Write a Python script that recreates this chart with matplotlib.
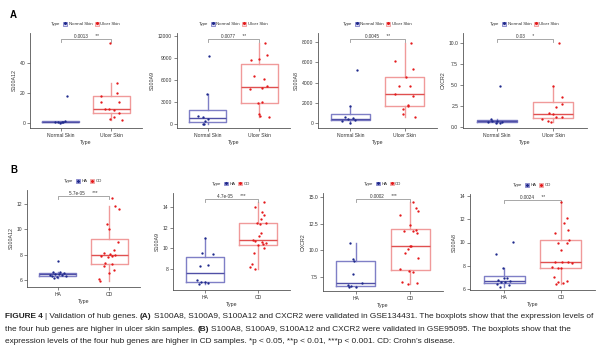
import matplotlib
matplotlib.use("Agg")
import matplotlib.pyplot as plt
from matplotlib.patches import Patch
from matplotlib.lines import Line2D
from matplotlib.legend_handler import HandlerTuple

plt.rcParams['font.family'] = ['Liberation Sans', 'DejaVu Sans']

W, H = 600, 357
BLUE, BLUE_BOX, BLUE_MED = "#1f2a8c", "#7f7fc6", "#5050a6"
RED, RED_BOX, RED_MED = "#e41a1c", "#f09a9a", "#e05050"
AXIS = "#555555"
TXT = "#333333"

# ---------------- data ----------------
groups_a = ["Normal Skin", "Ulcer Skin"]
groups_b = ["HA", "CD"]

# panel A (GSE134431)
a_s100a12_normal = [18.2, 1.2, 0.8, 0.5, 0.3, 0.2, 0.1]
a_s100a12_ulcer = [53.9, 27, 20.2, 18, 14.1, 14.1, 9.5, 9.0, 8.6, 6.3, 3.6, 2.3, 2.0]
a_s100a9_normal = [9240, 4030, 1130, 900, 650, 350, 60, 20]
a_s100a9_ulcer = [11050, 9380, 8790, 8700, 6520, 6110, 5160, 4850, 4710, 3030, 2810, 1360, 1130, 910]
a_s100a8_normal = [5230, 1680, 600, 480, 400, 300, 200, 30]
a_s100a8_ulcer = [7930, 6150, 5330, 4510, 3650, 3650, 2830, 2670, 1780, 1680, 1380, 890, 560]
a_cxcr2_normal = [4.86, 1.0, 0.75, 0.7, 0.65, 0.6, 0.5, 0.45]
a_cxcr2_ulcer = [10.0, 4.86, 3.6, 2.69, 2.41, 1.7, 1.5, 1.22, 1.15, 0.91, 0.67, 0.56]

# panel B (GSE95095)
b_s100a12_ha = [7.52, 6.63, 6.6, 6.58, 6.5, 6.45, 6.42, 6.38, 6.32, 6.28, 6.24, 6.13]
b_s100a12_cd = [12.45, 11.87, 11.58, 10.42, 10.0, 8.97, 8.37, 8.16, 8.03, 7.97,
                7.92, 7.88, 7.85, 7.37, 7.29, 7.1, 6.76, 6.53, 6.05, 5.95]
b_s100a9_ha = [10.97, 9.52, 9.42, 8.39, 8.32, 6.9, 6.77, 6.7, 6.6, 6.55]
b_s100a9_cd = [14.52, 14.04, 13.55, 13.23, 12.84, 12.5, 12.42, 12.33, 11.45, 11.22, 10.83,
               10.7, 10.64, 10.55, 10.42, 10.32, 10.06, 9.52, 8.45, 8.23, 7.97]
b_cxcr2_ha = [10.72, 9.16, 9.03, 7.75, 6.94, 6.75, 6.69, 6.59, 6.56]
b_cxcr2_cd = [14.5, 14.0, 13.72, 13.31, 12.4, 11.85, 11.9, 11.8, 11.6, 10.45,
              10.4, 10.1, 9.78, 9.25, 8.22, 8.06, 7.94, 7.0, 6.9, 6.84]
b_s100a8_ha = [10.02, 9.01, 7.78, 6.95, 6.92, 6.77, 6.69, 6.63, 6.57, 6.43, 6.34, 6.2]
b_s100a8_cd = [13.51, 12.13, 11.7, 11.08, 10.84, 10.2, 9.98, 9.98, 9.35, 8.35, 8.3,
               8.28, 8.21, 7.92, 7.83, 7.78, 7.06, 6.69, 6.57, 6.49, 6.4]

# horizontal jitter of each point (category units)
a_s100a12_normal_jit = [0.12, 0.08, -0.05, 0.02, -0.1, 0.05, -0.02]
a_s100a12_ulcer_jit = [-0.02, 0.11, 0.10, -0.2, -0.21, 0.14, -0.12, -0.05, 0.05, 0.15, 0.05, -0.02, 0.2]
a_s100a9_normal_jit = [0.02, -0.02, -0.2, -0.1, 0.0, -0.05, -0.1, -0.08]
a_s100a9_ulcer_jit = [0.12, 0.15, 0.0, -0.16, -0.1, 0.1, 0.15, 0.06, -0.18, 0.06, -0.03, 0.0, 0.01, 0.2]
a_s100a8_normal_jit = [0.12, 0.0, -0.1, 0.05, -0.05, 0.08, -0.15, 0.0]
a_s100a8_ulcer_jit = [0.12, -0.17, 0.15, 0.02, -0.1, 0.1, -0.18, 0.15, 0.06, 0.07, -0.02, -0.03, 0.2]
a_cxcr2_normal_jit = [0.05, -0.1, 0.0, -0.08, 0.1, -0.15, 0.06, -0.02]
a_cxcr2_ulcer_jit = [0.1, -0.01, 0.16, 0.16, 0.05, -0.08, 0.0, 0.05, 0.15, -0.2, -0.1, -0.03]
b_s100a12_ha_jit = [0.0, 0.05, -0.1, 0.12, -0.05, 0.02, -0.15, 0.08, -0.12, 0.15, -0.02, -0.08]
b_s100a12_cd_jit = [0.05, 0.12, 0.2, -0.05, 0.0, 0.18, 0.1, -0.1, 0.02, 0.12, -0.15, 0.06, -0.02,
                    -0.08, 0.05, -0.1, 0.1, 0.0, -0.2, -0.18]
b_s100a9_ha_jit = [0.0, -0.05, 0.15, 0.05, -0.1, -0.15, 0.0, -0.08, 0.05, -0.12]
b_s100a9_cd_jit = [0.12, -0.05, 0.08, 0.12, 0.05, 0.15, -0.02, 0.03, 0.05, 0.02, -0.1, -0.05,
                   0.08, 0.15, 0.1, 0.0, 0.12, -0.08, -0.12, -0.15, -0.05]
b_cxcr2_ha_jit = [-0.1, -0.05, -0.04, -0.05, 0.12, -0.15, -0.08, 0.0, -0.12]
b_cxcr2_cd_jit = [0.05, 0.1, 0.15, -0.18, 0.0, 0.05, 0.1, -0.12, 0.12, 0.02, 0.0, -0.05,
                  -0.1, 0.15, -0.18, -0.02, 0.05, -0.15, 0.12, -0.05]
b_s100a8_ha_jit = [0.15, -0.15, -0.02, 0.0, 0.05, -0.1, 0.1, -0.05, 0.02, -0.12, 0.08, -0.08]
b_s100a8_cd_jit = [0.0, 0.1, 0.05, 0.12, -0.1, 0.15, -0.05, 0.1, 0.0, -0.1, 0.02, 0.12,
                   0.2, -0.15, 0.0, -0.05, -0.12, 0.1, -0.05, 0.03, -0.08]

p_values_a = ["0.0013", "0.0077", "0.0045", "0.03"]
stars_a = ["**", "**", "**", "*"]
p_values_b = ["5.7e-05", "4.7e-05", "0.0002", "0.0024"]
stars_b = ["***", "***", "***", "**"]

# ---------------- layout (pixels) ----------------
# rect = (left, top, right, bottom); yref = ((value, pixel), (value, pixel))
panels = [
    ("S100A12", groups_a, a_s100a12_normal, a_s100a12_normal_jit, a_s100a12_ulcer, a_s100a12_ulcer_jit,
     p_values_a[0], stars_a[0], [0, 20, 40], (30, 33, 142, 128), ((0, 122.7), (40, 63.3))),
    ("S100A9", groups_a, a_s100a9_normal, a_s100a9_normal_jit, a_s100a9_ulcer, a_s100a9_ulcer_jit,
     p_values_a[1], stars_a[1], [0, 3000, 6000, 9000, 12000], (177, 33, 290, 128), ((0, 124), (12000, 35.7))),
    ("S100A8", groups_a, a_s100a8_normal, a_s100a8_normal_jit, a_s100a8_ulcer, a_s100a8_ulcer_jit,
     p_values_a[2], stars_a[2], [0, 2000, 4000, 6000, 8000], (318, 33, 437, 128), ((0, 123), (8000, 42))),
    ("CXCR2", groups_a, a_cxcr2_normal, a_cxcr2_normal_jit, a_cxcr2_ulcer, a_cxcr2_ulcer_jit,
     p_values_a[3], stars_a[3], [0.0, 2.5, 5.0, 7.5, 10.0], (463, 33, 587, 128), ((0, 127), (10, 42.7))),
    ("S100A12", groups_b, b_s100a12_ha, b_s100a12_ha_jit, b_s100a12_cd, b_s100a12_cd_jit,
     p_values_b[0], stars_b[0], [6, 8, 10, 12], (27, 190, 140, 287), ((6, 280), (12, 204))),
    ("S100A9", groups_b, b_s100a9_ha, b_s100a9_ha_jit, b_s100a9_cd, b_s100a9_cd_jit,
     p_values_b[1], stars_b[1], [8, 10, 12, 14], (173, 193, 290, 290), ((8, 269), (14, 207))),
    ("CXCR2", groups_b, b_cxcr2_ha, b_cxcr2_ha_jit, b_cxcr2_cd, b_cxcr2_cd_jit,
     p_values_b[2], stars_b[2], [7.5, 10.0, 12.5, 15.0], (323, 193, 443, 291), ((7.5, 277), (15, 197))),
    ("S100A8", groups_b, b_s100a8_ha, b_s100a8_ha_jit, b_s100a8_cd, b_s100a8_cd_jit,
     p_values_b[3], stars_b[3], [6, 8, 10, 12, 14], (470, 194, 595, 290), ((6, 289), (14, 196))),
]

fig = plt.figure(figsize=(W / 100, H / 100), dpi=100)
fig.patch.set_facecolor("white")


def px_axes(rect):
    l, t, r, b = rect
    return fig.add_axes([l / W, 1 - b / H, (r - l) / W, (b - t) / H])


for gene, groups, v0, j0, v1, j1, pval, star, yticks, rect, yref in panels:
    ax = px_axes(rect)
    (va, pa), (vb, pb) = yref
    scale = (pa - pb) / (vb - va)  # px per unit
    ax.set_ylim(va - (rect[3] - pa) / scale, va + (pa - rect[1]) / scale)
    ax.set_xlim(0.4, 2.6)

    bp = ax.boxplot([v0, v1], positions=[1, 2], widths=0.72, showfliers=False,
                    showcaps=False, whis=1.5, patch_artist=False)
    for i, (c, cm) in enumerate([(BLUE_BOX, BLUE_MED), (RED_BOX, RED_MED)]):
        bp['boxes'][i].set(color=c, linewidth=1.0)
        bp['whiskers'][2 * i].set(color=c, linewidth=1.0)
        bp['whiskers'][2 * i + 1].set(color=c, linewidth=1.0)
        bp['medians'][i].set(color=cm, linewidth=1.0)

    ax.scatter([1 + d for d in j0], v0, s=2.8, color=BLUE, zorder=3, linewidths=0)
    ax.scatter([2 + d for d in j1], v1, s=2.8, color=RED, zorder=3, linewidths=0)

    # significance bracket
    tr = ax.get_xaxis_transform()
    yb = 1 - 6 / (rect[3] - rect[1])
    yt = yb - 3 / (rect[3] - rect[1])
    ax.plot([1, 1, 2, 2], [yt, yb, yb, yt], transform=tr, color="#999999", lw=0.6, clip_on=False)
    ax.text(1.5, yb + 0.005, pval + "      " + star, transform=tr, ha="center", va="bottom",
            fontsize=3.3, color=TXT)

    for s in ["top", "right"]:
        ax.spines[s].set_visible(False)
    for s in ["left", "bottom"]:
        ax.spines[s].set_color(AXIS)
        ax.spines[s].set_linewidth(0.6)
    ax.set_xticks([1, 2])
    ax.set_xticklabels(groups)
    ax.set_yticks(yticks)
    ax.set_yticklabels([f"{t:g}" if not isinstance(t, float) else f"{t:.1f}" for t in yticks])
    ax.tick_params(length=2, width=0.5, color=AXIS, labelsize=3.6, labelcolor=TXT, pad=1.5)
    ax.set_xlabel("Type", fontsize=3.8, color=TXT, labelpad=1.5)
    ax.set_ylabel(gene, fontsize=3.8, color=TXT, labelpad=2)

    # legend on top: box key with a dot inside
    title = Line2D([], [], ls="", marker="")
    h0 = (Patch(facecolor="#dcdcf2", edgecolor=BLUE_BOX, lw=0.6),
          Line2D([], [], ls="", marker="o", ms=1.2, color=BLUE))
    h1 = (Patch(facecolor="#f9dede", edgecolor=RED_BOX, lw=0.6),
          Line2D([], [], ls="", marker="o", ms=1.2, color=RED))
    cy = 1 - (rect[1] - 9) / H
    cx = ((rect[0] + rect[2]) / 2 - 3) / W
    ax.legend([title, h0, h1], ["Type", groups[0], groups[1]], ncol=3, loc="center",
              bbox_to_anchor=(cx, cy), bbox_transform=fig.transFigure, frameon=False,
              fontsize=3.2, handlelength=0.9, handleheight=0.9, handletextpad=0.3,
              columnspacing=0.6, borderpad=0, labelcolor=TXT,
              handler_map={tuple: HandlerTuple(ndivide=1, pad=0)})

fig.text(10 / W, 1 - 15 / H, "A", fontsize=7, fontweight="bold", ha="left", va="center")
fig.text(10 / W, 1 - 170 / H, "B", fontsize=7, fontweight="bold", ha="left", va="center")

# ---------------- caption ----------------
caption = [
    [("FIGURE 4", True), ("| Validation of hub genes.", False), ("(A)", True),
     ("S100A8, S100A9, S100A12 and CXCR2 were validated in GSE134431. The boxplots show that the expression levels of", False)],
    [("the four hub genes are higher in ulcer skin samples.", False), ("(B)", True),
     ("S100A8, S100A9, S100A12 and CXCR2 were validated in GSE95095. The boxplots show that the", False)],
    [("expression levels of the four hub genes are higher in CD samples. *p < 0.05, **p < 0.01, ***p < 0.001. CD: Crohn\u2019s disease.", False)],
]
caption_y = [318, 331, 343]
renderer = fig.canvas.get_renderer()
cap_size = 5.95


def text_w(s, bold):
    t = fig.text(0, 0, s, fontsize=cap_size, fontweight="bold" if bold else "normal")
    w = t.get_window_extent(renderer).width
    t.remove()
    return w


space = text_w("x x", False) - text_w("xx", False)
for parts, yp in zip(caption, caption_y):
    x = 5
    for txt, bold in parts:
        t = fig.text(x / W, 1 - yp / H, txt, fontsize=cap_size, color="#222222",
                     fontweight="bold" if bold else "normal", va="baseline", ha="left")
        x += t.get_window_extent(renderer).width + space

fig.savefig("out.png", dpi=100)
